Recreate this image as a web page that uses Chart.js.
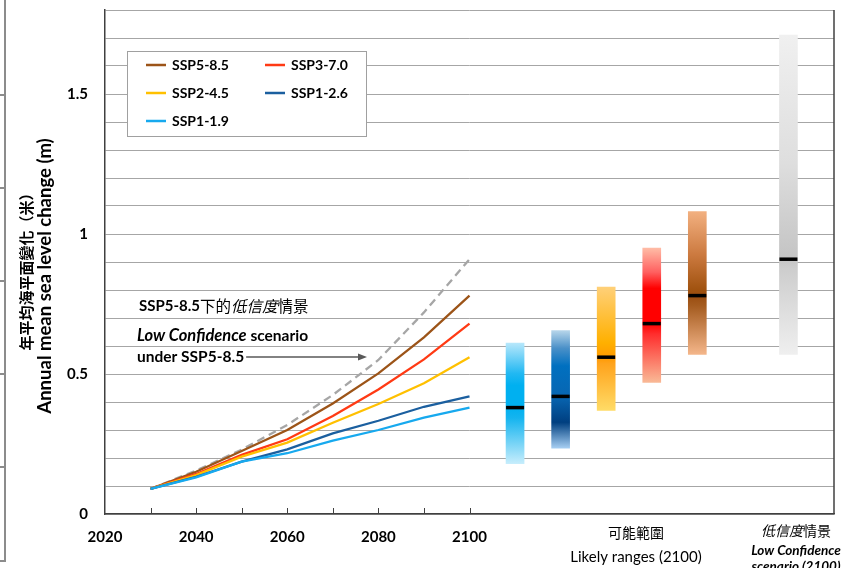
<!DOCTYPE html>
<html>
<head>
<meta charset="utf-8">
<script src="https://cdn.jsdelivr.net/npm/chart.js@4.4.1/dist/chart.umd.min.js"></script>
<style>
  html, body { margin: 0; padding: 0; background: #ffffff; }
  #wrap { width: 842px; height: 568px; }
</style>
</head>
<body>
<div id="wrap"><canvas id="c" width="842" height="568"></canvas></div>
<script>
// Projected annual mean sea level change (m), decadal values
const years = [2030, 2040, 2050, 2060, 2070, 2080, 2090, 2100];
const ssp585 = [0.09, 0.151, 0.225, 0.300, 0.395, 0.502, 0.631, 0.78];
const ssp370 = [0.09, 0.143, 0.211, 0.267, 0.350, 0.445, 0.552, 0.68];
const ssp245 = [0.09, 0.139, 0.205, 0.255, 0.326, 0.393, 0.467, 0.56];
const ssp126 = [0.09, 0.133, 0.187, 0.231, 0.288, 0.333, 0.383, 0.42];
const ssp119 = [0.09, 0.131, 0.187, 0.217, 0.262, 0.300, 0.344, 0.38];
const lowConf585 = [0.09, 0.155, 0.230, 0.318, 0.425, 0.550, 0.720, 0.91];

// Likely ranges in 2100 (and the low confidence scenario), placed beyond 2100
const rangeNames = ['SSP1-1.9', 'SSP1-2.6', 'SSP2-4.5', 'SSP3-7.0', 'SSP5-8.5', '低信度情景'];
const rangeSlots = [2110, 2120, 2130, 2140, 2150, 2170];
const rangeLow = [0.18, 0.235, 0.37, 0.47, 0.57, 0.57];
const rangeHigh = [0.61, 0.655, 0.81, 0.95, 1.08, 1.71];
const rangeMedian = [0.38, 0.42, 0.56, 0.68, 0.78, 0.91];

// Axis ticks
const xLabelYears = [2020, 2040, 2060, 2080, 2100];
const xTickYears = [2030, 2040, 2050, 2060, 2070, 2080, 2090, 2100];
const yLabelValues = [0, 0.5, 1, 1.5];

const LATIN = 'Lato, "Noto Sans CJK TC", sans-serif';
const CJK = '"Noto Sans CJK TC", "Noto Sans CJK SC", sans-serif';

const colors = {
  'SSP5-8.5': '#9c5418',
  'SSP3-7.0': '#ff3a14',
  'SSP2-4.5': '#ffc000',
  'SSP1-2.6': '#1b5f9f',
  'SSP1-1.9': '#17a9ee'
};

// Vertical colour ramps for each range bar (0 = top of bar, 1 = bottom)
const rampStops = [
  [[0, '#b6e7fb'], [0.25, '#22b8f2'], [0.35, '#00b0f0'], [0.53, '#00b0f0'], [0.62, '#14b4ef'], [1, '#c6edfc']],
  [[0, '#b6d5ea'], [0.15, '#4a90c8'], [0.3, '#0070c0'], [0.56, '#0866b2'], [0.78, '#003f80'], [1, '#a6cef2']],
  [[0, '#ffd078'], [0.45, '#ffb000'], [0.57, '#ff9a00'], [0.62, '#ffa31c'], [1, '#ffdb66']],
  [[0, '#ffbca6'], [0.18, '#ff6060'], [0.3, '#ff0000'], [0.56, '#ff0000'], [0.64, '#ff2d2d'], [1, '#f9b996']],
  [[0, '#f2b080'], [0.3, '#cc7a40'], [0.55, '#a0520f'], [0.59, '#9a4d10'], [0.66, '#a55c20'], [1, '#f4b68a']],
  [[0, '#f0f0f0'], [0.4, '#dedede'], [0.7, '#c4c4c4'], [0.73, '#cdcdcd'], [1, '#efefef']]
];

const pts = (vals) => years.map((y, i) => ({ x: y, y: vals[i] }));

function lineSet(label, vals, order) {
  return {
    type: 'line', label, data: pts(vals),
    borderColor: colors[label], backgroundColor: colors[label],
    borderWidth: 2.3, pointRadius: 0, tension: 0, fill: false, order
  };
}

const datasets = [
  lineSet('SSP1-1.9', ssp119, 1),
  lineSet('SSP1-2.6', ssp126, 2),
  lineSet('SSP2-4.5', ssp245, 3),
  lineSet('SSP3-7.0', ssp370, 4),
  lineSet('SSP5-8.5', ssp585, 5),
  {
    type: 'line', label: 'lowconf', data: pts(lowConf585),
    borderColor: '#a6a6a6', borderWidth: 2.3, borderDash: [8, 5],
    pointRadius: 0, tension: 0, fill: false, order: 6
  },
  {
    type: 'bar', label: 'ranges',
    data: rangeSlots.map((x, i) => ({ x, y: [rangeLow[i], rangeHigh[i]] })),
    barThickness: 18, borderWidth: 0, order: 8,
    backgroundColor: (ctx) => {
      const chart = ctx.chart;
      const i = ctx.dataIndex;
      if (!chart.chartArea || i === undefined) return '#cccccc';
      const y = chart.scales.y;
      const g = chart.ctx.createLinearGradient(0, y.getPixelForValue(rangeHigh[i]), 0, y.getPixelForValue(rangeLow[i]));
      rampStops[i].forEach(([o, c]) => g.addColorStop(o, c));
      return g;
    }
  },
  {
    type: 'scatter', label: 'median',
    data: rangeSlots.map((x, i) => ({ x, y: rangeMedian[i] })),
    pointStyle: 'line', pointRadius: 9, borderWidth: 3.5,
    borderColor: '#000000', backgroundColor: '#000000', order: 0
  }
];

// Draw a run of differently styled text pieces
function runsWidth(ctx, runs) {
  let w = 0;
  runs.forEach(r => { ctx.font = r.font; w += ctx.measureText(r.t).width; });
  return w;
}
function drawRuns(ctx, x, y, runs, align) {
  let cx = x;
  if (align === 'center') cx = x - runsWidth(ctx, runs) / 2;
  ctx.textBaseline = 'middle';
  ctx.textAlign = 'left';
  runs.forEach(r => {
    ctx.font = r.font;
    ctx.fillStyle = r.color || '#000000';
    ctx.fillText(r.t, cx, y);
    cx += ctx.measureText(r.t).width;
  });
  return cx;
}

const decorations = {
  id: 'decorations',
  afterDraw(chart) {
    const ctx = chart.ctx;
    const { left, right, top, bottom } = chart.chartArea;
    const xs = chart.scales.x;
    ctx.save();

    // right frame of the plot
    ctx.strokeStyle = '#404040';
    ctx.lineWidth = 1.5;
    ctx.beginPath();
    ctx.moveTo(right, top);
    ctx.lineTo(right, bottom);
    ctx.stroke();

    // inward tick marks on the time axis
    ctx.lineWidth = 1;
    ctx.beginPath();
    xTickYears.forEach(yr => {
      const px = Math.round(xs.getPixelForValue(yr)) + 0.5;
      ctx.moveTo(px, bottom);
      ctx.lineTo(px, bottom - 6);
    });
    ctx.stroke();

    // outer panel edge on the far left
    ctx.strokeStyle = '#8c8c8c';
    ctx.lineWidth = 2;
    ctx.beginPath();
    ctx.moveTo(5, 0);
    ctx.lineTo(5, 561);
    ctx.lineTo(0, 561);
    [95, 188, 281, 374, 467].forEach(py => { ctx.moveTo(0, py); ctx.lineTo(5, py); });
    ctx.stroke();

    // y axis title (two lines, rotated)
    ctx.save();
    ctx.translate(26, 268);
    ctx.rotate(-Math.PI / 2);
    ctx.fillStyle = '#000';
    ctx.textAlign = 'center';
    ctx.textBaseline = 'middle';
    ctx.font = 'bold 15px ' + CJK;
    ctx.fillText('年平均海平面變化（米）', 0, 0);
    ctx.restore();
    ctx.save();
    ctx.translate(45, 276);
    ctx.rotate(-Math.PI / 2);
    ctx.fillStyle = '#000';
    ctx.textAlign = 'center';
    ctx.textBaseline = 'middle';
    ctx.font = 'bold 18.5px ' + LATIN;
    ctx.fillText('Annual mean sea level change (m)', 0, 0);
    ctx.restore();

    // legend box
    const lx = 127, ly = 51, lw = 239, lh = 85;
    ctx.fillStyle = '#ffffff';
    ctx.fillRect(lx, ly, lw, lh);
    ctx.strokeStyle = '#a0a0a0';
    ctx.lineWidth = 1;
    ctx.strokeRect(lx + 0.5, ly + 0.5, lw, lh);
    const legendOrder = [['SSP5-8.5', 0, 0], ['SSP3-7.0', 1, 0], ['SSP2-4.5', 0, 1], ['SSP1-2.6', 1, 1], ['SSP1-1.9', 0, 2]];
    legendOrder.forEach(([name, col, row]) => {
      const sx = col === 0 ? 146 : 265;
      const sy = 65 + row * 28;
      ctx.strokeStyle = colors[name];
      ctx.lineWidth = 2.5;
      ctx.beginPath();
      ctx.moveTo(sx, sy);
      ctx.lineTo(sx + 20, sy);
      ctx.stroke();
      drawRuns(ctx, sx + 26, sy, [{ t: name, font: 'bold 14px ' + LATIN }]);
    });

    // annotation for the low confidence scenario
    drawRuns(ctx, 139, 306, [
      { t: 'SSP5-8.5', font: 'bold 15px ' + LATIN },
      { t: '下的', font: '15.5px ' + CJK },
      { t: '低信度', font: 'italic 15.5px ' + CJK },
      { t: '情景', font: '15.5px ' + CJK }
    ]);
    drawRuns(ctx, 137, 336, [
      { t: 'Low Confidence', font: 'italic bold 16.5px ' + LATIN },
      { t: ' scenario', font: 'bold 15.5px ' + LATIN }
    ]);
    const endX = drawRuns(ctx, 137, 357, [{ t: 'under SSP5-8.5', font: 'bold 15.5px ' + LATIN }]);
    ctx.strokeStyle = '#595959';
    ctx.fillStyle = '#595959';
    ctx.lineWidth = 1.5;
    ctx.beginPath();
    ctx.moveTo(endX + 2, 357);
    ctx.lineTo(360, 357);
    ctx.stroke();
    ctx.beginPath();
    ctx.moveTo(367, 357);
    ctx.lineTo(358, 353.5);
    ctx.lineTo(358, 360.5);
    ctx.closePath();
    ctx.fill();

    // captions under the range bars
    drawRuns(ctx, 636, 533, [{ t: '可能範圍', font: '14px ' + CJK }], 'center');
    drawRuns(ctx, 636, 557, [{ t: 'Likely ranges (2100)', font: '15px ' + LATIN }], 'center');
    drawRuns(ctx, 796, 531, [
      { t: '低信度', font: 'italic 14px ' + CJK },
      { t: '情景', font: '14px ' + CJK }
    ], 'center');
    drawRuns(ctx, 796, 551, [{ t: 'Low Confidence', font: 'italic bold 13.5px ' + LATIN }], 'center');
    drawRuns(ctx, 796, 567, [{ t: 'scenario (2100)', font: 'italic bold 13.5px ' + LATIN }], 'center');

    ctx.restore();
  }
};

new Chart(document.getElementById('c'), {
  type: 'line',
  data: { datasets },
  options: {
    responsive: false,
    animation: false,
    events: [],
    layout: { autoPadding: false, padding: { top: 10, right: 8, left: 0, bottom: 0 } },
    plugins: { legend: { display: false }, tooltip: { enabled: false } },
    scales: {
      x: {
        type: 'linear', min: 2020, max: 2180, offset: false,
        afterBuildTicks: (scale) => { scale.ticks = xLabelYears.map(v => ({ value: v })); },
        afterFit: (scale) => { scale.height = 54; scale.paddingLeft = 0; scale.paddingRight = 0; },
        ticks: {
          autoSkip: false, maxRotation: 0, padding: 14, color: '#000000',
          font: { family: LATIN, size: 15, weight: 'bold' },
          callback: (v) => String(v)
        },
        grid: { display: false, drawTicks: false },
        border: { display: true, color: '#404040', width: 1.5 }
      },
      y: {
        type: 'linear', min: 0, max: 1.8,
        afterFit: (scale) => { scale.width = 105; scale.paddingTop = 0; scale.paddingBottom = 0; },
        ticks: {
          stepSize: 0.1, autoSkip: false, padding: 17, color: '#000000',
          font: { family: LATIN, size: 15, weight: 'bold' },
          callback: (v) => {
            const r = Math.round(v * 10) / 10;
            return yLabelValues.includes(r) ? String(r) : '';
          }
        },
        grid: { color: '#a6a6a6', lineWidth: 1, drawTicks: false },
        border: { display: true, color: '#404040', width: 1.5 }
      }
    }
  },
  plugins: [decorations]
});
</script>
</body>
</html>
